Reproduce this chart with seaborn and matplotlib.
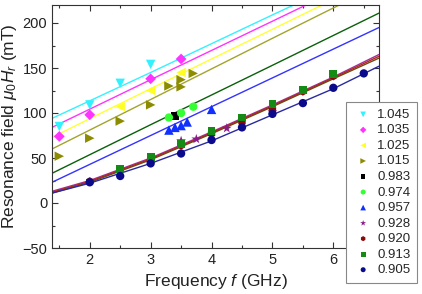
import matplotlib
matplotlib.use('Agg')
import matplotlib.pyplot as plt
from matplotlib.ticker import MultipleLocator
import pandas as pd
import seaborn as sns

# measured points, one array pair per sample
labels = ['1.045', '1.035', '1.025', '1.015', '0.983', '0.974', '0.957', '0.928', '0.920', '0.913', '0.905']

f_1045 = [1.5, 2.0, 2.5, 3.0]
h_1045 = [85, 109, 133, 154]
f_1035 = [1.5, 2.0, 3.0, 3.5]
h_1035 = [74, 98, 138, 160]
f_1025 = [2.5, 3.0, 3.5]
h_1025 = [107, 125, 145]
f_1015 = [1.5, 2.0, 2.5, 3.0, 3.3, 3.5, 3.5, 3.7]
h_1015 = [52, 72, 91, 109, 130, 129, 137, 144]
f_0983 = [3.4]
h_0983 = [97]
f_0974 = [3.3, 3.5, 3.7]
h_0974 = [95, 100, 107]
f_0957 = [3.3, 3.4, 3.5, 3.6, 4.0]
h_0957 = [81, 84, 86, 90, 104]
f_0928 = [3.5, 3.75, 4.25, 5.0]
h_0928 = [69, 71, 83, 101]
f_0920 = [2.0, 3.0, 3.5, 4.0, 4.5, 5.0, 5.5, 6.0]
h_0920 = [24, 47, 64, 77, 90, 104, 124, 141]
f_0913 = [2.5, 3.0, 3.5, 4.0, 4.5, 5.0, 5.5, 6.0]
h_0913 = [38, 51, 66, 80, 95, 110, 126, 143]
f_0905 = [2.0, 2.5, 3.0, 3.5, 4.0, 4.5, 5.0, 5.5, 6.0, 6.5]
h_0905 = [23, 30, 44, 55, 70, 84, 99, 111, 128, 144]

# fitted curves
f_fit_up = [1.38, 3.0, 5.0, 6.75]
fit_1045 = [94, 145, 209, 264]
fit_1035 = [84, 137, 202, 259]
fit_1025 = [73, 127, 193, 251]
fit_1015 = [60, 115, 183, 242]
fit_0983 = [33, 87, 153, 211]
fit_0957 = [23, 75, 139, 195]
f_fit_low = [1.38, 2.0, 3.0, 4.0, 5.0, 6.0, 6.75]
fit_0928 = [13, 25, 50, 79, 109, 140, 165]
fit_0920 = [12, 24, 49, 78, 108, 139, 163]
fit_0913 = [11, 23, 48, 77, 107, 138, 161]
fit_0905 = [11, 22, 44, 69, 98, 127, 152]

points = [
    (f_1045, h_1045, 'v', '#33f2ff', 46),
    (f_1035, h_1035, 'D', '#ff33ff', 30),
    (f_1025, h_1025, '<', '#ffff22', 46),
    (f_1015, h_1015, '>', '#8c8c00', 46),
    (f_0983, h_0983, 's', '#000000', 30),
    (f_0974, h_0974, 'o', '#33ff33', 36),
    (f_0957, h_0957, '^', '#1030ff', 46),
    (f_0928, h_0928, '*', '#8a1a8a', 55),
    (f_0920, h_0920, 'h', '#8a0a0a', 38),
    (f_0913, h_0913, 's', '#158a15', 32),
    (f_0905, h_0905, 'o', '#0a0a8a', 36),
]

fits = [
    (f_fit_up, fit_1045, '#33f2ff'),
    (f_fit_up, fit_1035, '#ff33ff'),
    (f_fit_up, fit_1025, '#ffff33'),
    (f_fit_up, fit_1015, '#a3a32e'),
    (f_fit_up, fit_0983, '#0a600a'),
    (f_fit_up, fit_0957, '#3333ff'),
    (f_fit_low, fit_0928, '#a0309a'),
    (f_fit_low, fit_0920, '#c02020'),
    (f_fit_low, fit_0913, '#6a4a10'),
    (f_fit_low, fit_0905, '#2a2aa0'),
]

sns.set_style('ticks')
plt.rcParams['font.family'] = ['Liberation Sans', 'DejaVu Sans']
plt.rcParams['mathtext.fontset'] = 'custom'
plt.rcParams['mathtext.rm'] = 'Liberation Sans'
plt.rcParams['mathtext.it'] = 'Liberation Sans:italic'

fig = plt.figure(figsize=(4.22, 2.94), dpi=100)
ax = fig.add_axes([52 / 422, 1 - 248 / 294, 327 / 422, 243 / 294])

for fx, fy, c in fits:
    df = pd.DataFrame({'f': fx, 'H': fy})
    sns.lineplot(data=df, x='f', y='H', color=c, lw=1.0, ax=ax, zorder=2)

for (fx, hy, m, c, s), lab in zip(points, labels):
    df = pd.DataFrame({'f': fx, 'H': hy})
    sns.scatterplot(data=df, x='f', y='H', marker=m, color=c, s=s,
                    edgecolor='none', ax=ax, zorder=3, label=lab)

ax.set_xlim(1.38, 6.75)
ax.set_ylim(-50, 220)
ax.xaxis.set_major_locator(MultipleLocator(1))
ax.xaxis.set_minor_locator(MultipleLocator(0.5))
ax.yaxis.set_major_locator(MultipleLocator(50))
ax.yaxis.set_minor_locator(MultipleLocator(25))
ax.tick_params(which='both', direction='in', top=True, right=True, width=0.8,
               colors='#333333', labelcolor='#222222', labelsize=10.5)
ax.tick_params(which='major', length=4)
ax.tick_params(which='minor', length=2.5)
for sp in ax.spines.values():
    sp.set_linewidth(0.8)
    sp.set_color('#333333')

ax.set_xlabel('Frequency $f$ (GHz)', fontsize=12.5, color='#222222', labelpad=4)
ax.set_ylabel('Resonance field $\\mu_0H_r$ (mT)', fontsize=12.5, color='#222222', labelpad=2)

handles, labs = ax.get_legend_handles_labels()
ax.legend_.remove()
leg = fig.legend(handles, labs, loc='upper left', bbox_to_anchor=(346 / 422, 1 - 102 / 294),
                 bbox_transform=fig.transFigure, fontsize=9.5, frameon=True, fancybox=False,
                 edgecolor='#888888', framealpha=1, markerscale=0.6, handlelength=1.6,
                 handletextpad=0.25, labelspacing=0.25, borderpad=0.5, borderaxespad=0)
leg.get_frame().set_linewidth(0.8)
leg.set_zorder(10)

fig.savefig('out.png', dpi=100)
